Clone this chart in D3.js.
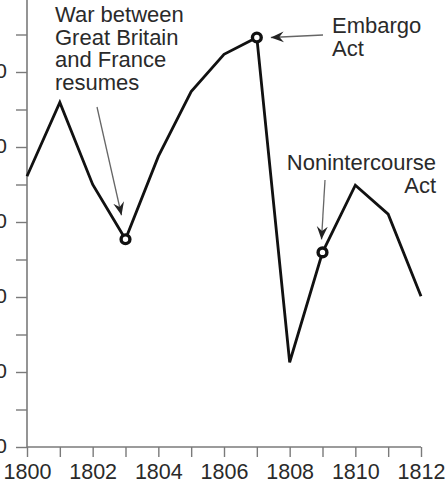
<!DOCTYPE html>
<html><head><meta charset="utf-8">
<script src="https://cdn.jsdelivr.net/npm/d3@7"></script>
<style>body{margin:0;background:#fff}svg{display:block}text{font-family:"Liberation Sans",Arial,Helvetica,sans-serif;fill:#2a2a2a}</style>
</head><body><svg id="c" width="445" height="480"></svg>
<script>
const years = [1800,1801,1802,1803,1804,1805,1806,1807,1808,1809,1810,1811,1812];
const values = [72.2,91.9,70.0,55.4,77.5,94.8,104.7,109.2,22.6,51.9,69.8,62.1,40.2];
const markedYears = [1803,1807,1809];
const xTickLabels = [1800,1802,1804,1806,1808,1810,1812];
const yTickLabels = [0,20,40,60,80,100];
const yMinorTicks = [0,10,20,30,40,50,60,70,80,90,100,110];

const svg = d3.select("#c");
const x = d3.scaleLinear().domain([1800,1812]).range([27,421]);
const y = d3.scaleLinear().domain([0,120]).range([447,-3]);
const axisColor = "#7a7a7a";

// y axis
const ya = svg.append("g").attr("transform","translate(27,0)")
  .call(d3.axisLeft(y).tickValues(yMinorTicks).tickSize(11).tickFormat(d => yTickLabels.includes(d) ? d : "").tickPadding(9));
ya.select(".domain").attr("stroke",axisColor).attr("stroke-width",1.6).attr("d","M0,"+y(0)+"V0");
ya.selectAll(".tick line").attr("stroke",axisColor).attr("stroke-width",1.4);
ya.selectAll(".tick text").style("font-size","21px").attr("fill","#2a2a2a").attr("dy","0.25em");

// x axis
const xa = svg.append("g").attr("transform","translate(0,"+y(0)+")")
  .call(d3.axisBottom(x).tickValues(years).tickSize(10).tickFormat(d => xTickLabels.includes(d) ? d : "").tickPadding(0));
xa.select(".domain").attr("stroke",axisColor).attr("stroke-width",1.6).attr("d","M"+x(1800)+",0H"+x(1812));
xa.selectAll(".tick line").attr("stroke",axisColor).attr("stroke-width",1.4);
xa.selectAll(".tick text").style("font-size","21.5px").attr("fill","#2a2a2a").attr("dy",null).attr("y",31.5);

// line
const data = years.map((yr,i)=>({yr, v:values[i]}));
svg.append("path").datum(data)
  .attr("fill","none").attr("stroke","#111").attr("stroke-width",2.8).attr("stroke-linejoin","miter")
  .attr("d", d3.line().x(d=>x(d.yr)).y(d=>y(d.v)));

// markers
svg.selectAll("circle.m").data(data.filter(d=>markedYears.includes(d.yr))).enter()
  .append("circle").attr("cx",d=>x(d.yr)).attr("cy",d=>y(d.v)).attr("r",4.4)
  .attr("fill","#fff").attr("stroke","#111").attr("stroke-width",3.4);

// arrow marker
const defs = svg.append("defs");
defs.append("marker").attr("id","ah").attr("viewBox","-13 -6 14 12").attr("refX",0).attr("refY",0)
  .attr("markerWidth",14).attr("markerHeight",12).attr("markerUnits","userSpaceOnUse").attr("orient","auto")
  .append("path").attr("d","M0,0L-13,-5.5L-8.5,0L-13,5.5Z").attr("fill","#222");

function arrow(x1,y1,x2,y2){
  svg.append("line").attr("x1",x1).attr("y1",y1).attr("x2",x2).attr("y2",y2)
    .attr("stroke","#666").attr("stroke-width",1.3).attr("marker-end","url(#ah)");
}
function label(lines,xp,y0,anchor){
  const t = svg.append("text").attr("x",xp).attr("y",y0).attr("text-anchor",anchor).style("font-size","22px");
  lines.forEach((s,i)=>t.append("tspan").attr("x",xp).attr("dy",i?22.7:0).text(s));
}
const p1803 = data[3], p1807 = data[7], p1809 = data[9];
label(["War between","Great Britain","and France","resumes"],55,22,"start");
arrow(97,107,x(p1803.yr)-4,y(p1803.v)-24);
label(["Embargo","Act"],332,33,"start");
arrow(323,35,x(p1807.yr)+14,y(p1807.v));
label(["Nonintercourse","Act"],436,170,"end");
arrow(325,180,x(p1809.yr)-1,y(p1809.v)-13);
</script></body></html>
